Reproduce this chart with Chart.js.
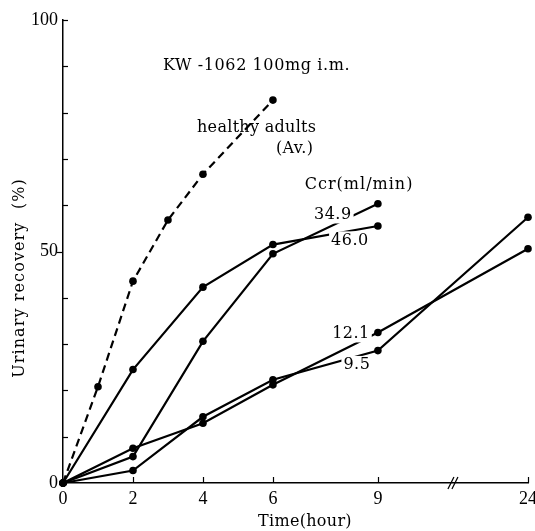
<!DOCTYPE html>
<html>
<head>
<meta charset="utf-8">
<script src="https://cdn.jsdelivr.net/npm/chart.js@4/dist/chart.umd.min.js"></script>
<style>
  html, body { margin: 0; padding: 0; background: #fff; }
  #wrap { width: 535px; height: 531px; }
</style>
</head>
<body>
<div id="wrap"><canvas id="recoveryChart" width="535" height="531"></canvas></div>
<script>
// healthy adults (average), dashed line
var healthyHours = [0, 1, 2, 3, 4, 6];
var healthyRecovery = [0, 20.8, 43.6, 56.8, 66.7, 82.7];

// renal patients, collected up to 9 h
var shortHours = [0, 2, 4, 6, 9];
var ccr46 = [0, 24.5, 42.3, 51.5, 55.5];
var ccr349 = [0, 5.7, 30.6, 49.5, 60.3];

// renal patients, collected up to 24 h
var longHours = [0, 2, 4, 6, 9, 24];
var ccr121 = [0, 7.5, 12.9, 21.2, 32.5, 50.6];
var ccr95 = [0, 2.7, 14.3, 22.3, 28.6, 57.4];

var xTickHours = [0, 2, 4, 6, 9, 24];
var yTickValues = [0, 50, 100];

var serif = "'DejaVu Serif', serif";
var tickFont = "'Liberation Serif', serif";

// the axis is broken after 9 h, the 9-24 part is squeezed
function hourToPos(h) {
  return h <= 9 ? h : 9 + (h - 9) * 0.286;
}

function makeSet(hours, values, dashed) {
  return {
    data: hours.map(function (h, i) { return {x: hourToPos(h), y: values[i]}; }),
    borderColor: '#000',
    backgroundColor: '#000',
    borderWidth: 2.2,
    borderDash: dashed ? [8, 5] : [],
    pointRadius: 3.8,
    pointHoverRadius: 3.8,
    pointBorderWidth: 0,
    tension: 0,
    fill: false,
    clip: false
  };
}

function putText(ctx, text, x, y, align, spacing, whiteBox) {
  ctx.save();
  ctx.font = '16px ' + serif;
  ctx.letterSpacing = (spacing || 0) + 'px';
  ctx.textAlign = align;
  ctx.textBaseline = 'middle';
  if (whiteBox) {
    var w = ctx.measureText(text).width;
    var left = align === 'center' ? x - w / 2 : x;
    ctx.fillStyle = '#fff';
    ctx.fillRect(left - 2, y - 9, w + 4, 18);
  }
  ctx.fillStyle = '#000';
  ctx.fillText(text, x, y);
  ctx.restore();
}

var extrasPlugin = {
  id: 'extras',
  afterDatasetsDraw: function (chart) {
    var ctx = chart.ctx;
    var xs = chart.scales.x, ys = chart.scales.y;
    function px(h) { return xs.getPixelForValue(hourToPos(h)); }
    function py(v) { return ys.getPixelForValue(v); }

    putText(ctx, 'KW -1062 100mg i.m.', px(2.86), py(90.2), 'left', 0.6);
    putText(ctx, 'healthy adults', px(3.83), py(76.8), 'left', 0.3);
    putText(ctx, '(Av.)', px(6.09), py(72.1), 'left', 0.3);
    putText(ctx, 'Ccr(ml/min)', px(6.91), py(64.5), 'left', 1);

    putText(ctx, '34.9', px(7.71), py(58), 'center', 0.5, true);
    putText(ctx, '46.0', px(8.2), py(52.4), 'center', 0.5, true);
    putText(ctx, '12.1', px(8.23), py(32.3), 'center', 0.5, true);
    putText(ctx, '9.5', px(8.4), py(25.5), 'center', 0.5, true);
  },
  afterDraw: function (chart) {
    var ctx = chart.ctx;
    var area = chart.chartArea;
    var xs = chart.scales.x, ys = chart.scales.y;
    ctx.save();
    ctx.strokeStyle = '#000';
    ctx.lineWidth = 1.2;

    // y ticks, minor ones point inward
    for (var v = 10; v <= 100; v += 10) {
      var y = Math.round(ys.getPixelForValue(v)) + 0.5;
      ctx.beginPath();
      if (v === 50) {
        ctx.moveTo(area.left - 6, y);
        ctx.lineTo(area.left, y);
      } else {
        ctx.moveTo(area.left, y);
        ctx.lineTo(area.left + 5, y);
      }
      ctx.stroke();
    }

    // x ticks pointing up
    xTickHours.forEach(function (h) {
      if (h === 0) return;
      var x = Math.round(xs.getPixelForValue(hourToPos(h))) + 0.5;
      ctx.beginPath();
      ctx.moveTo(x, area.bottom);
      ctx.lineTo(x, area.bottom - 6);
      ctx.stroke();
    });

    // break mark //
    var xb = xs.getPixelForValue((9 + hourToPos(24)) / 2);
    ctx.lineWidth = 1.3;
    [-2, 2].forEach(function (d) {
      ctx.beginPath();
      ctx.moveTo(xb + d - 3, area.bottom + 6);
      ctx.lineTo(xb + d + 3, area.bottom - 6);
      ctx.stroke();
    });
    ctx.restore();

    // axis titles
    putText(ctx, 'Time(hour)', 305, 522, 'center', 0.3);
    ctx.save();
    ctx.translate(20, 278);
    ctx.rotate(-Math.PI / 2);
    putText(ctx, 'Urinary recovery  (%)', 0, 0, 'center', 1.1);
    ctx.restore();
  }
};

var ctx = document.getElementById('recoveryChart').getContext('2d');
var recoveryChart = new Chart(ctx, {
  type: 'line',
  data: {
    datasets: [
      makeSet(healthyHours, healthyRecovery, true),
      makeSet(shortHours, ccr46, false),
      makeSet(shortHours, ccr349, false),
      makeSet(longHours, ccr121, false),
      makeSet(longHours, ccr95, false)
    ]
  },
  options: {
    responsive: false,
    animation: false,
    devicePixelRatio: 1,
    layout: { padding: { top: 20, right: 7, left: 0, bottom: 0 } },
    plugins: {
      legend: { display: false },
      tooltip: { enabled: false }
    },
    scales: {
      x: {
        type: 'linear',
        min: 0,
        max: hourToPos(24),
        afterBuildTicks: function (scale) {
          scale.ticks = xTickHours.map(function (h) { return {value: hourToPos(h)}; });
        },
        afterFit: function (scale) {
          scale.height = 48;
          scale.paddingLeft = 0;
          scale.paddingRight = 0;
        },
        ticks: {
          autoSkip: false,
          maxRotation: 0,
          padding: 5,
          color: '#000',
          font: { family: tickFont, size: 18 },
          callback: function (value, index) { return String(xTickHours[index]); }
        },
        grid: { drawOnChartArea: false, drawTicks: false, color: 'rgba(0,0,0,0)' },
        border: { display: true, color: '#000', width: 1.5 }
      },
      y: {
        min: 0,
        max: 100,
        afterBuildTicks: function (scale) {
          scale.ticks = yTickValues.map(function (v) { return {value: v}; });
        },
        afterFit: function (scale) {
          scale.width = 63;
          scale.paddingTop = 0;
          scale.paddingBottom = 0;
        },
        ticks: {
          padding: 5,
          color: '#000',
          font: { family: tickFont, size: 18 },
          callback: function (value) { return String(value); }
        },
        grid: { drawOnChartArea: false, drawTicks: false, color: 'rgba(0,0,0,0)' },
        border: { display: true, color: '#000', width: 1.5 }
      }
    }
  },
  plugins: [extrasPlugin]
});
</script>
</body>
</html>
